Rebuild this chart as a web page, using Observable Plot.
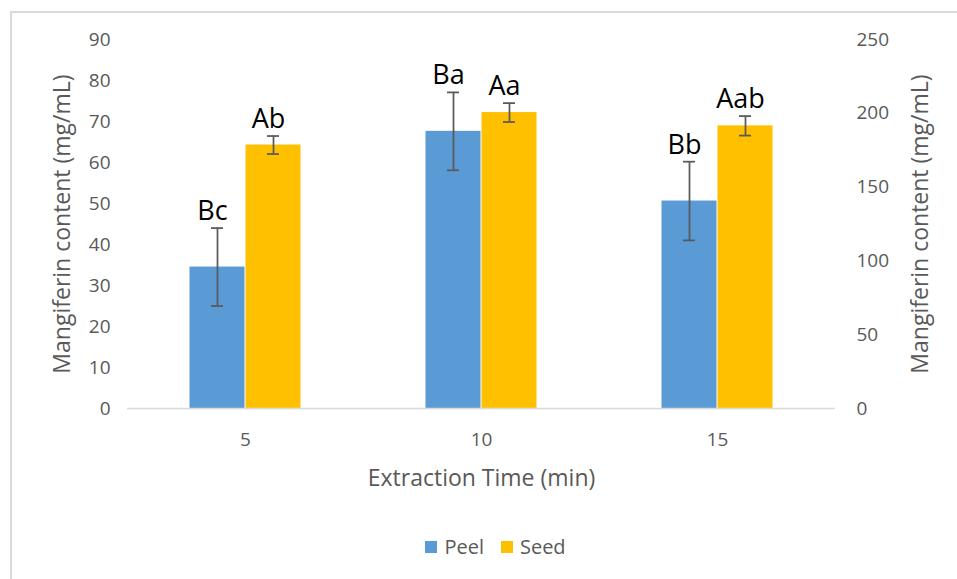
<!DOCTYPE html>
<html>
<head>
<meta charset="utf-8">
<script src="https://cdn.jsdelivr.net/npm/d3@7"></script>
<script src="https://cdn.jsdelivr.net/npm/@observablehq/plot@0.6"></script>
<style>
  html, body { margin: 0; padding: 0; background: #fff; }
  #wrap { position: relative; width: 957px; height: 579px; overflow: hidden; font-family: "Open Sans", sans-serif; }
  #frame { position: absolute; left: 10px; top: 11px; right: -10px; bottom: -10px; border-left: 2px solid #d9d9d9; border-top: 2px solid #d9d9d9; }
  #chart { position: absolute; left: 0; top: 0; }
  #legend { position: absolute; left: 0; width: 957px; top: 533px; display: flex; justify-content: center; gap: 17px; font-size: 20px; color: #595959; padding-left: 34px; box-sizing: border-box; }
  .item { display: flex; align-items: center; }
  .sw { width: 12px; height: 12px; margin-right: 7px; }
</style>
</head>
<body>
<div id="wrap">
  <div id="frame"></div>
  <div id="chart"></div>
  <div id="legend"></div>
</div>
<script>
const times = [5, 10, 15];
const seriesNames = ["Peel", "Seed"];
const seriesColors = ["#5B9BD5", "#FFC000"];
const peelMean = [34.5, 67.6, 50.6];
const peelSd = [9.5, 9.5, 9.6];
const seedMean = [178.5, 200.5, 191.5];
const seedSd = [6.1, 6.4, 6.6];
const peelLetters = ["Bc", "Ba", "Bb"];
const seedLetters = ["Ab", "Aa", "Aab"];
const leftTicks = [0, 10, 20, 30, 40, 50, 60, 70, 80, 90];
const rightTicks = [0, 50, 100, 150, 200, 250];
const yLabel = "Mangiferin content (mg/mL)";
const xLabel = "Extraction Time (min)";

// secondary axis (Seed) maps 0..250 onto the primary 0..90 range
const k = 90 / 250;

const rows = [];
times.forEach((t, i) => {
  rows.push({time: t, series: "Peel", y: peelMean[i], lo: peelMean[i] - peelSd[i], hi: peelMean[i] + peelSd[i], letter: peelLetters[i]});
  rows.push({time: t, series: "Seed", y: seedMean[i] * k, lo: (seedMean[i] - seedSd[i]) * k, hi: (seedMean[i] + seedSd[i]) * k, letter: seedLetters[i]});
});

const chart = Plot.plot({
  width: 957,
  height: 500,
  marginLeft: 127,
  marginRight: 122,
  marginTop: 39,
  marginBottom: 92,
  style: {fontFamily: "'Open Sans', sans-serif", fontSize: "18px", color: "#595959", background: "transparent", overflow: "visible"},
  fx: {domain: times, padding: 0},
  x: {domain: seriesNames, paddingInner: 0, paddingOuter: 1.09, axis: null},
  y: {domain: [0, 90]},
  color: {domain: seriesNames, range: seriesColors},
  marks: [
    Plot.axisY(leftTicks, {anchor: "left", tickSize: 0, tickPadding: 17, label: null, fontSize: 19}),
    Plot.axisY([], {anchor: "left", tickSize: 0, label: yLabel, labelAnchor: "center", labelArrow: "none", labelOffset: 74, fontSize: 23}),
    Plot.axisY(rightTicks.map(v => v * k), {anchor: "right", tickSize: 0, tickPadding: 21, tickFormat: d => Math.round(d / k), label: null, fontSize: 19}),
    Plot.axisY([], {anchor: "right", tickSize: 0, label: yLabel, labelAnchor: "center", labelArrow: "none", labelOffset: 92, fontSize: 23}),
    Plot.axisFx({anchor: "bottom", tickSize: 0, tickPadding: 24, label: null, fontSize: 19}),
    Plot.axisFx([], {anchor: "bottom", tickSize: 0, label: xLabel, labelAnchor: "center", labelArrow: "none", labelOffset: 77, fontSize: 23}),
    Plot.barY(rows, {fx: "time", x: "series", y: "y", fill: "series", insetLeft: 0.5, insetRight: 0.5}),
    Plot.ruleY([0], {stroke: "#d9d9d9", strokeWidth: 1.5}),
    Plot.ruleX(rows, {fx: "time", x: "series", y1: "lo", y2: "hi", stroke: "#595959", strokeWidth: 1.75}),
    Plot.tickY(rows, {fx: "time", x: "series", y: "hi", stroke: "#595959", strokeWidth: 1.75, inset: 22}),
    Plot.tickY(rows, {fx: "time", x: "series", y: "lo", stroke: "#595959", strokeWidth: 1.75, inset: 22}),
    Plot.text(rows, {fx: "time", x: "series", y: "hi", text: "letter", lineAnchor: "bottom", dy: -8, dx: -5, fontSize: 27, fill: "#000"})
  ]
});
document.getElementById("chart").appendChild(chart);

const legend = document.getElementById("legend");
seriesNames.forEach((s, i) => {
  const item = document.createElement("div");
  item.className = "item";
  const sw = document.createElement("div");
  sw.className = "sw";
  sw.style.background = seriesColors[i];
  const lab = document.createElement("span");
  lab.textContent = s;
  item.appendChild(sw);
  item.appendChild(lab);
  legend.appendChild(item);
});
</script>
</body>
</html>
